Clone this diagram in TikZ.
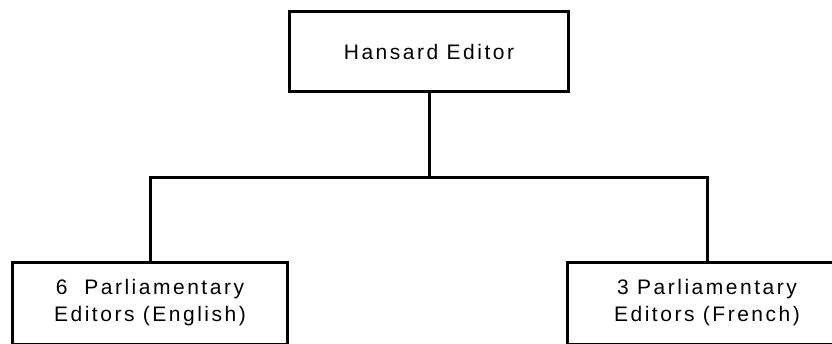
\documentclass[tikz,border=0pt]{standalone}
\usepackage{fontspec}
\setmainfont{Liberation Sans}[LetterSpace=12]
\begin{document}
\begin{tikzpicture}[x=1pt,y=-1pt,
  orgbox/.style={draw=black,line width=3pt,rectangle,inner sep=0pt,align=center,
    font=\fontsize{21}{27}\selectfont},
  conn/.style={draw=black,line width=3pt}]
\useasboundingbox (0,0) rectangle (832,343);
\clip (0,0) rectangle (832,343);
\node[orgbox,minimum width=278.5pt,minimum height=80pt] (top) at (429,51.5) {Hansard Editor};
\node[orgbox,minimum width=275pt,minimum height=82pt] (left) at (150,303) {6\ \ Parliamentary\\Editors (English)};
\node[orgbox,minimum width=279pt,minimum height=82pt] (right) at (707,303) {3 Parliamentary\\Editors (French)};
\coordinate (j) at (429,177);
\draw[conn] (top.south) -- (j);
\draw[conn] (left.north) |- (j) -| (right.north);
\end{tikzpicture}
\end{document}
